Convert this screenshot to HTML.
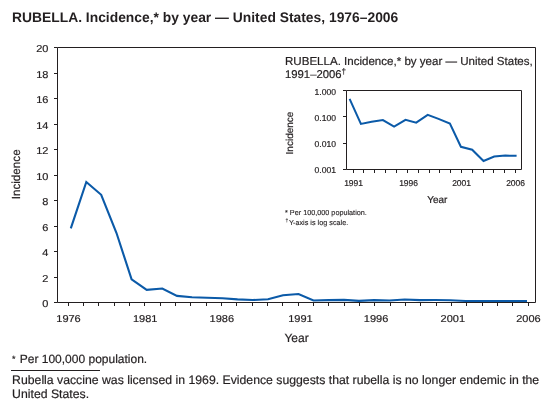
<!DOCTYPE html>
<html><head><meta charset="utf-8"><style>
html,body{margin:0;padding:0;background:#fff;}
svg{display:block;will-change:transform;}
text{font-family:"Liberation Sans",sans-serif;fill:#231f20;}
</style></head><body>
<svg text-rendering="geometricPrecision" width="556" height="407" viewBox="0 0 556 407">
<g stroke="#231f20" stroke-width="0.2">
<path d="M57.5,47.5 H535.5 V302.5 H57.5 Z" fill="none" stroke="#231f20" stroke-width="1"/>
<path d="M54,47.5 H57.5" stroke="#231f20" stroke-width="1"/>
<text transform="translate(48.4,52.0) scale(0.55,0.5)" text-anchor="end" font-size="20" stroke-width="0.4">20</text>
<path d="M54,73.5 H57.5" stroke="#231f20" stroke-width="1"/>
<text transform="translate(48.4,78.0) scale(0.55,0.5)" text-anchor="end" font-size="20" stroke-width="0.4">18</text>
<path d="M54,98.5 H57.5" stroke="#231f20" stroke-width="1"/>
<text transform="translate(48.4,103.0) scale(0.55,0.5)" text-anchor="end" font-size="20" stroke-width="0.4">16</text>
<path d="M54,124.5 H57.5" stroke="#231f20" stroke-width="1"/>
<text transform="translate(48.4,129.0) scale(0.55,0.5)" text-anchor="end" font-size="20" stroke-width="0.4">14</text>
<path d="M54,149.5 H57.5" stroke="#231f20" stroke-width="1"/>
<text transform="translate(48.4,154.0) scale(0.55,0.5)" text-anchor="end" font-size="20" stroke-width="0.4">12</text>
<path d="M54,175.5 H57.5" stroke="#231f20" stroke-width="1"/>
<text transform="translate(48.4,180.0) scale(0.55,0.5)" text-anchor="end" font-size="20" stroke-width="0.4">10</text>
<path d="M54,200.5 H57.5" stroke="#231f20" stroke-width="1"/>
<text transform="translate(48.4,205.0) scale(0.55,0.5)" text-anchor="end" font-size="20" stroke-width="0.4">8</text>
<path d="M54,226.5 H57.5" stroke="#231f20" stroke-width="1"/>
<text transform="translate(48.4,231.0) scale(0.55,0.5)" text-anchor="end" font-size="20" stroke-width="0.4">6</text>
<path d="M54,251.5 H57.5" stroke="#231f20" stroke-width="1"/>
<text transform="translate(48.4,256.0) scale(0.55,0.5)" text-anchor="end" font-size="20" stroke-width="0.4">4</text>
<path d="M54,277.5 H57.5" stroke="#231f20" stroke-width="1"/>
<text transform="translate(48.4,282.0) scale(0.55,0.5)" text-anchor="end" font-size="20" stroke-width="0.4">2</text>
<path d="M54,302.5 H57.5" stroke="#231f20" stroke-width="1"/>
<text transform="translate(48.4,307.0) scale(0.55,0.5)" text-anchor="end" font-size="20" stroke-width="0.4">0</text>
<path d="M68.5,302.5 V306" stroke="#231f20" stroke-width="1"/>
<path d="M83.5,302.5 V306" stroke="#231f20" stroke-width="1"/>
<path d="M98.5,302.5 V306" stroke="#231f20" stroke-width="1"/>
<path d="M114.5,302.5 V306" stroke="#231f20" stroke-width="1"/>
<path d="M129.5,302.5 V306" stroke="#231f20" stroke-width="1"/>
<path d="M144.5,302.5 V306" stroke="#231f20" stroke-width="1"/>
<path d="M160.5,302.5 V306" stroke="#231f20" stroke-width="1"/>
<path d="M175.5,302.5 V306" stroke="#231f20" stroke-width="1"/>
<path d="M190.5,302.5 V306" stroke="#231f20" stroke-width="1"/>
<path d="M206.5,302.5 V306" stroke="#231f20" stroke-width="1"/>
<path d="M221.5,302.5 V306" stroke="#231f20" stroke-width="1"/>
<path d="M236.5,302.5 V306" stroke="#231f20" stroke-width="1"/>
<path d="M252.5,302.5 V306" stroke="#231f20" stroke-width="1"/>
<path d="M267.5,302.5 V306" stroke="#231f20" stroke-width="1"/>
<path d="M282.5,302.5 V306" stroke="#231f20" stroke-width="1"/>
<path d="M298.5,302.5 V306" stroke="#231f20" stroke-width="1"/>
<path d="M313.5,302.5 V306" stroke="#231f20" stroke-width="1"/>
<path d="M328.5,302.5 V306" stroke="#231f20" stroke-width="1"/>
<path d="M344.5,302.5 V306" stroke="#231f20" stroke-width="1"/>
<path d="M359.5,302.5 V306" stroke="#231f20" stroke-width="1"/>
<path d="M374.5,302.5 V306" stroke="#231f20" stroke-width="1"/>
<path d="M390.5,302.5 V306" stroke="#231f20" stroke-width="1"/>
<path d="M405.5,302.5 V306" stroke="#231f20" stroke-width="1"/>
<path d="M420.5,302.5 V306" stroke="#231f20" stroke-width="1"/>
<path d="M436.5,302.5 V306" stroke="#231f20" stroke-width="1"/>
<path d="M451.5,302.5 V306" stroke="#231f20" stroke-width="1"/>
<path d="M466.5,302.5 V306" stroke="#231f20" stroke-width="1"/>
<path d="M482.5,302.5 V306" stroke="#231f20" stroke-width="1"/>
<path d="M497.5,302.5 V306" stroke="#231f20" stroke-width="1"/>
<path d="M512.5,302.5 V306" stroke="#231f20" stroke-width="1"/>
<path d="M528.5,302.5 V306" stroke="#231f20" stroke-width="1"/>
<text transform="translate(68.5,321.8) scale(0.55,0.5)" text-anchor="middle" font-size="20" stroke-width="0.4">1976</text>
<text transform="translate(145.2,321.8) scale(0.55,0.5)" text-anchor="middle" font-size="20" stroke-width="0.4">1981</text>
<text transform="translate(221.8,321.8) scale(0.55,0.5)" text-anchor="middle" font-size="20" stroke-width="0.4">1986</text>
<text transform="translate(300.4,321.8) scale(0.55,0.5)" text-anchor="middle" font-size="20" stroke-width="0.4">1991</text>
<text transform="translate(376.1,321.8) scale(0.55,0.5)" text-anchor="middle" font-size="20" stroke-width="0.4">1996</text>
<text transform="translate(452.8,321.8) scale(0.55,0.5)" text-anchor="middle" font-size="20" stroke-width="0.4">2001</text>
<text transform="translate(528.4,321.8) scale(0.55,0.5)" text-anchor="middle" font-size="20" stroke-width="0.4">2006</text>
<text x="296.5" y="342" text-anchor="middle" font-size="12">Year</text>
<text transform="translate(19.7,174.3) rotate(-90)" text-anchor="middle" font-size="11.7">Incidence</text>
<polyline points="70.8,228.3 86.3,182.0 101.2,194.8 116.5,233.0 131.6,279.4 146.7,289.9 162.3,288.5 177.0,295.9 192.0,297.3 207.0,297.8 222.5,298.3 237.5,299.4 252.7,300.0 268.0,299.2 283.0,295.2 298.5,294.0 313.5,300.5 328.7,300.1 344.0,299.9 359.0,300.9 374.2,300.1 389.5,300.5 404.7,299.5 420.0,300.1 435.0,300.0 450.3,300.2 465.5,301.0 480.7,301.0 496.0,301.0 511.2,301.0 527.0,301.0" fill="none" stroke="#0b5aa8" stroke-width="2.1" stroke-linejoin="miter"/>
<text x="285" y="65" font-size="11.55">RUBELLA. Incidence,* by year — United States,</text>
<text x="285" y="78" font-size="11.3">1991–2006<tspan font-size="8" dy="-4">†</tspan></text>
<path d="M346.5,90.5 H521.5 V169.5 H346.5 Z" fill="none" stroke="#231f20" stroke-width="1"/>
<path d="M343,90.5 H346.5" stroke="#231f20" stroke-width="1"/>
<text x="336" y="94.7" text-anchor="end" font-size="8.6">1.000</text>
<path d="M343,116.5 H346.5" stroke="#231f20" stroke-width="1"/>
<text x="336" y="121.0" text-anchor="end" font-size="8.6">0.100</text>
<path d="M343,143.5 H346.5" stroke="#231f20" stroke-width="1"/>
<text x="336" y="147.0" text-anchor="end" font-size="8.6">0.010</text>
<path d="M343,169.5 H346.5" stroke="#231f20" stroke-width="1"/>
<text x="336" y="173.0" text-anchor="end" font-size="8.6">0.001</text>
<path d="M353.5,169.5 V173" stroke="#231f20" stroke-width="1"/>
<path d="M363.5,169.5 V173" stroke="#231f20" stroke-width="1"/>
<path d="M374.5,169.5 V173" stroke="#231f20" stroke-width="1"/>
<path d="M385.5,169.5 V173" stroke="#231f20" stroke-width="1"/>
<path d="M396.5,169.5 V173" stroke="#231f20" stroke-width="1"/>
<path d="M407.5,169.5 V173" stroke="#231f20" stroke-width="1"/>
<path d="M418.5,169.5 V173" stroke="#231f20" stroke-width="1"/>
<path d="M429.5,169.5 V173" stroke="#231f20" stroke-width="1"/>
<path d="M439.5,169.5 V173" stroke="#231f20" stroke-width="1"/>
<path d="M450.5,169.5 V173" stroke="#231f20" stroke-width="1"/>
<path d="M461.5,169.5 V173" stroke="#231f20" stroke-width="1"/>
<path d="M472.5,169.5 V173" stroke="#231f20" stroke-width="1"/>
<path d="M483.5,169.5 V173" stroke="#231f20" stroke-width="1"/>
<path d="M493.5,169.5 V173" stroke="#231f20" stroke-width="1"/>
<path d="M504.5,169.5 V173" stroke="#231f20" stroke-width="1"/>
<path d="M515.5,169.5 V173" stroke="#231f20" stroke-width="1"/>
<text x="353.6" y="186" text-anchor="middle" font-size="8.5">1991</text>
<text x="408.6" y="186" text-anchor="middle" font-size="8.5">1996</text>
<text x="461.6" y="186" text-anchor="middle" font-size="8.5">2001</text>
<text x="515.6" y="186" text-anchor="middle" font-size="8.5">2006</text>
<text x="437.3" y="203.3" text-anchor="middle" font-size="10">Year</text>
<text transform="translate(292.6,133) rotate(-90)" text-anchor="middle" font-size="10">Incidence</text>
<polyline points="349.6,98.8 360.9,123.9 371.6,121.7 382.9,120.1 394.1,126.7 405.5,119.8 416.2,122.6 427.7,114.9 438.5,118.9 449.9,123.6 460.9,146.8 472.2,149.7 483.5,161.0 494.2,156.5 505.3,155.6 516.6,155.8" fill="none" stroke="#0b5aa8" stroke-width="2" stroke-linejoin="miter"/>
<text x="285" y="215.2" font-size="7.25" stroke="#231f20" stroke-width="0.12">* Per 100,000 population.</text>
<text x="285.5" y="224.7" font-size="7.25" stroke="#231f20" stroke-width="0.12"><tspan font-size="5" dy="-2.5">†</tspan><tspan dy="2.5" dx="0.6">Y-axis is log scale.</tspan></text>
<text x="12" y="21.6" font-size="13.85" font-weight="bold" stroke="none">RUBELLA. Incidence,* by year — United States, 1976–2006</text>
<text x="12" y="362.7" font-size="12"><tspan font-size="9" dy="-1">*</tspan><tspan dy="1" dx="0.9"> Per 100,000 population.</tspan></text>
<path d="M11,370.5 H100" stroke="#231f20" stroke-width="1"/>
<text x="12.1" y="383.8" font-size="12.25">Rubella vaccine was licensed in 1969. Evidence suggests that rubella is no longer endemic in the</text>
<text x="12.1" y="397.8" font-size="12.25">United States.</text>
</g>
</svg>
</body></html>
